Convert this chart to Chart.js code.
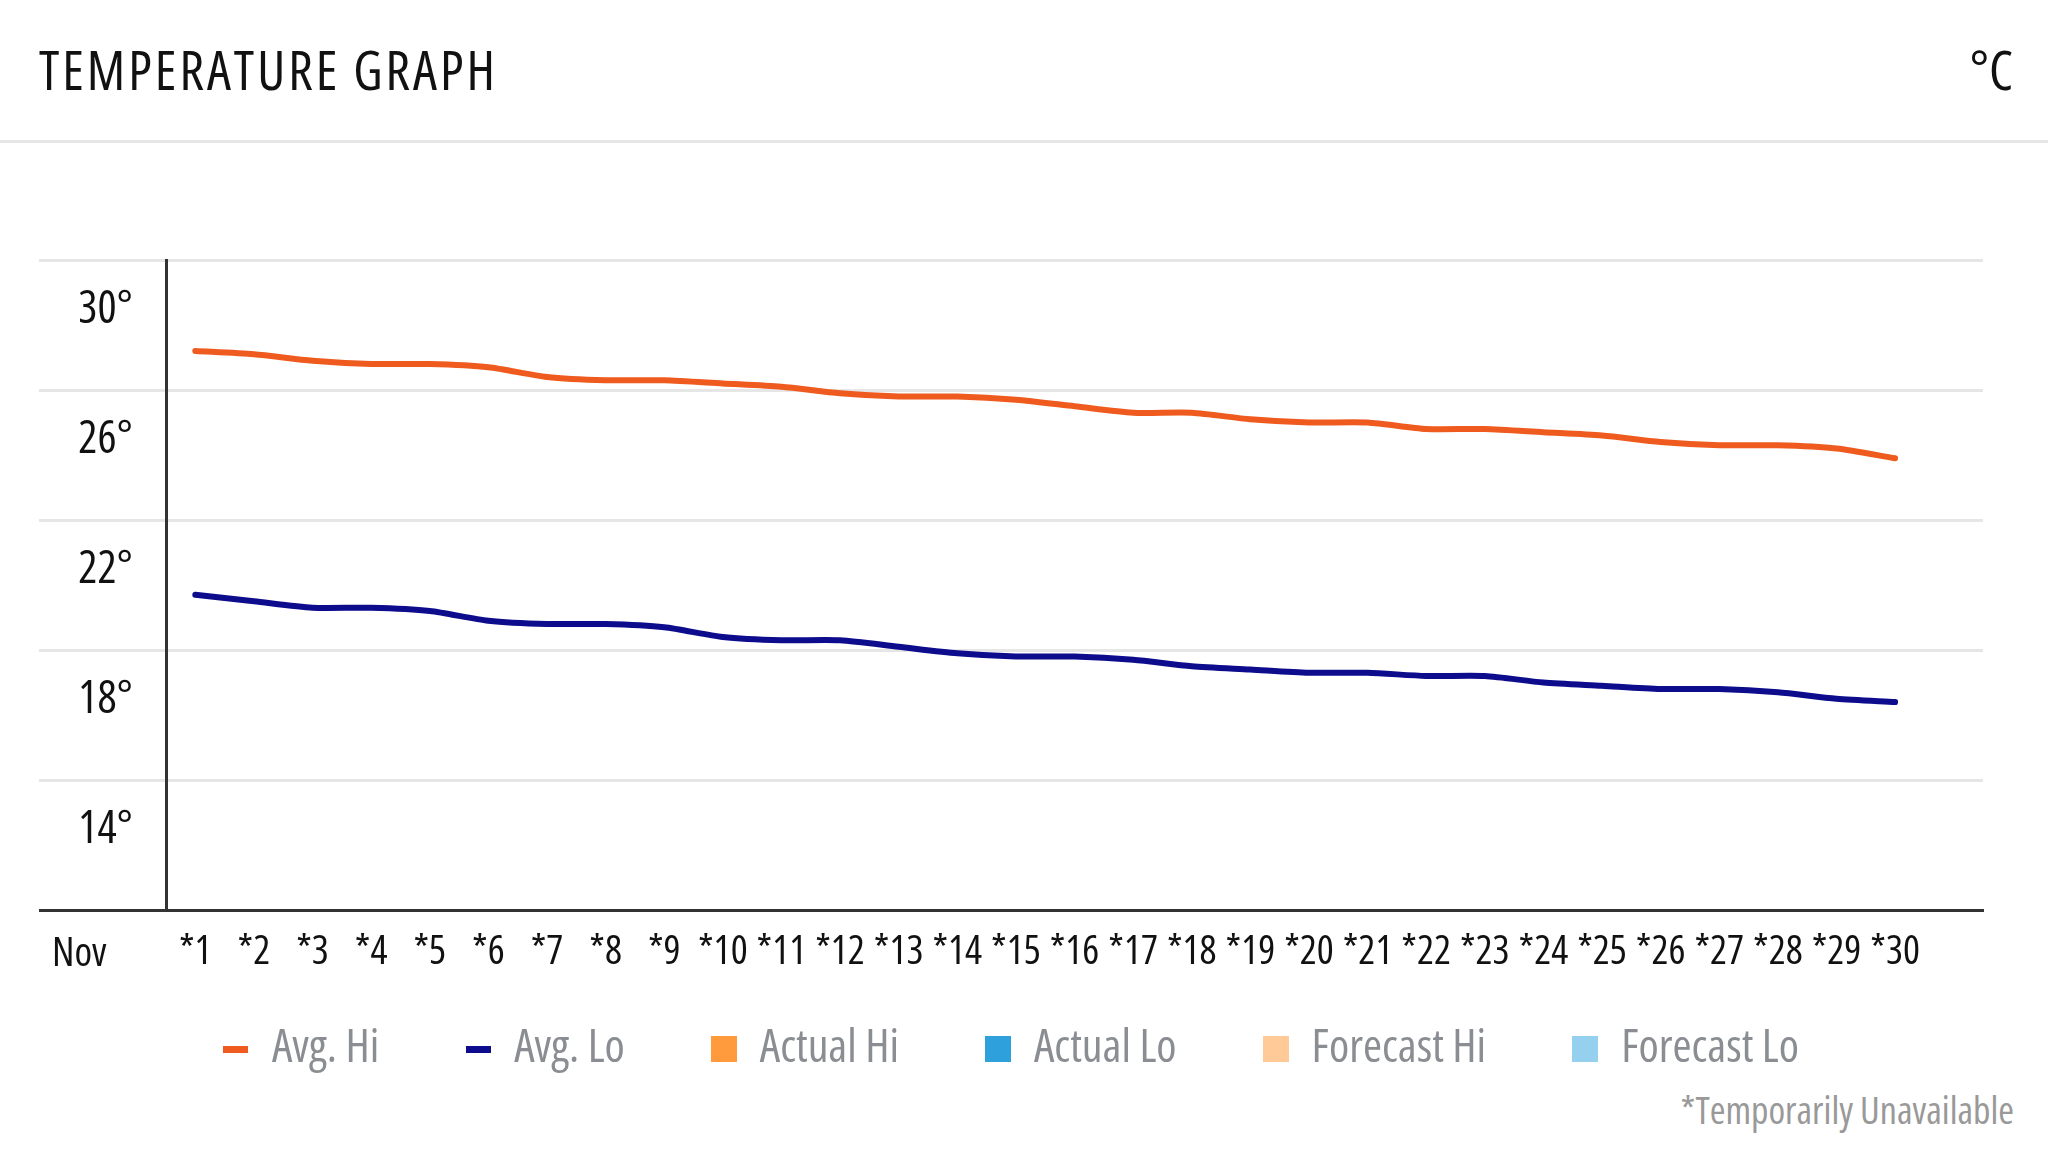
<!DOCTYPE html>
<html>
<head>
<meta charset="utf-8">
<script src="https://cdn.jsdelivr.net/npm/chart.js@4.4.1/dist/chart.umd.min.js"></script>
<style>
  html, body { margin: 0; padding: 0; width: 2048px; height: 1152px; overflow: hidden; background: #fff; }
  body { position: relative; font-family: 'Open Sans', sans-serif; font-stretch: condensed; }
  .txt { position: absolute; white-space: nowrap; }
  #title { left: 39px; top: 38px; font-size: 54px; line-height: 62px; color: #111; letter-spacing: 3px; }
  #unit { right: 35px; top: 38px; font-size: 54px; line-height: 62px; color: #111; }
  #rule { position: absolute; left: 0; top: 140px; width: 2048px; height: 3px; background: #e6e6e6; }
  #month { left: 52px; top: 927px; font-size: 40px; line-height: 48px; color: #111; }
  #note { right: 34px; top: 1087px; font-size: 38px; line-height: 44px; color: #999; }
  #chart { position: absolute; left: 0; top: 0; }
</style>
</head>
<body>
<canvas id="chart" width="2048" height="1082"></canvas>
<div id="title" class="txt">TEMPERATURE GRAPH</div>
<div id="unit" class="txt">°C</div>
<div id="rule"></div>
<div id="month" class="txt">Nov</div>
<div id="note" class="txt">*Temporarily Unavailable</div>
<script>
// fuente condensada para el canvas
const fuente = (size) => ({ family: "'Open Sans', sans-serif", size: size, weight: '400 condensed' })

// dias de noviembre
const dias = ['*1','*2','*3','*4','*5','*6','*7','*8','*9','*10','*11','*12','*13','*14','*15',
              '*16','*17','*18','*19','*20','*21','*22','*23','*24','*25','*26','*27','*28','*29','*30']

const avgHi = [27.2, 27.1, 26.9, 26.8, 26.8, 26.7, 26.4, 26.3, 26.3, 26.2, 26.1, 25.9, 25.8, 25.8, 25.7,
               25.5, 25.3, 25.3, 25.1, 25.0, 25.0, 24.8, 24.8, 24.7, 24.6, 24.4, 24.3, 24.3, 24.2, 23.9]

const avgLo = [19.7, 19.5, 19.3, 19.3, 19.2, 18.9, 18.8, 18.8, 18.7, 18.4, 18.3, 18.3, 18.1, 17.9, 17.8,
               17.8, 17.7, 17.5, 17.4, 17.3, 17.3, 17.2, 17.2, 17.0, 16.9, 16.8, 16.8, 16.7, 16.5, 16.4]

const actualHi = []
const actualLo = []
const forecastHi = []
const forecastLo = []

const yTicks = [10, 14, 18, 22, 26, 30]

/* muestras de la leyenda */
const muestra = (color, w, h) => {
    const c = document.createElement('canvas')
    c.width = w
    c.height = h
    const g = c.getContext('2d')
    g.fillStyle = color
    g.fillRect(0, 0, w, h)
    return c
}

const ctx = document.getElementById('chart').getContext('2d')

new Chart(ctx, {
    type: 'line',
    data: {
        labels: [...dias, ''],
        datasets: [
            { label: 'Avg. Hi', data: avgHi, borderColor: '#ef5b1e', backgroundColor: '#ef5b1e',
              borderWidth: 6, pointRadius: 0, tension: 0.25, borderCapStyle: 'round', borderJoinStyle: 'round',
              pointStyle: muestra('#ef5b1e', 25, 7) },
            { label: 'Avg. Lo', data: avgLo, borderColor: '#0c0c8c', backgroundColor: '#0c0c8c',
              borderWidth: 6, pointRadius: 0, tension: 0.25, borderCapStyle: 'round', borderJoinStyle: 'round',
              pointStyle: muestra('#0c0c8c', 25, 7) },
            { type: 'bar', label: 'Actual Hi', data: actualHi, backgroundColor: '#ff9b3d', pointStyle: muestra('#ff9b3d', 26, 26) },
            { type: 'bar', label: 'Actual Lo', data: actualLo, backgroundColor: '#2ea1dc', pointStyle: muestra('#2ea1dc', 26, 26) },
            { type: 'bar', label: 'Forecast Hi', data: forecastHi, backgroundColor: '#ffca98', pointStyle: muestra('#ffca98', 26, 26) },
            { type: 'bar', label: 'Forecast Lo', data: forecastLo, backgroundColor: '#96d0ef', pointStyle: muestra('#96d0ef', 26, 26) }
        ]
    },
    options: {
        responsive: false,
        animation: false,
        layout: { padding: { top: 260, left: 39, right: 65, bottom: 0 } },
        scales: {
            x: {
                offset: true,
                grid: { display: false, drawTicks: false },
                border: { display: true, color: '#333', width: 3 },
                ticks: { autoSkip: false, maxRotation: 0, mirror: true, padding: -67, color: '#111', font: fuente(40) },
                afterFit: (s) => { s.height = 30 }
            },
            y: {
                min: yTicks[0],
                max: yTicks[yTicks.length - 1],
                afterBuildTicks: (s) => { s.ticks = yTicks.map(v => ({ value: v })) },
                grid: {
                    color: (c) => c.tick && c.tick.value === yTicks[0] ? '#333' : '#e6e6e6',
                    lineWidth: 3,
                    tickLength: 127
                },
                border: { display: true, color: '#333', width: 3 },
                ticks: {
                    padding: -94,
                    labelOffset: 50,
                    color: '#111',
                    font: fuente(45),
                    callback: (v) => v === yTicks[0] ? '' : v + '°'
                },
                afterFit: (s) => { s.width = 127 }
            }
        },
        plugins: {
            tooltip: { enabled: false },
            legend: {
                position: 'bottom',
                labels: {
                    usePointStyle: true,
                    pointStyleWidth: 26,
                    padding: 86,
                    color: '#8a8d92',
                    font: fuente(46)
                }
            }
        }
    }
})
</script>
</body>
</html>
